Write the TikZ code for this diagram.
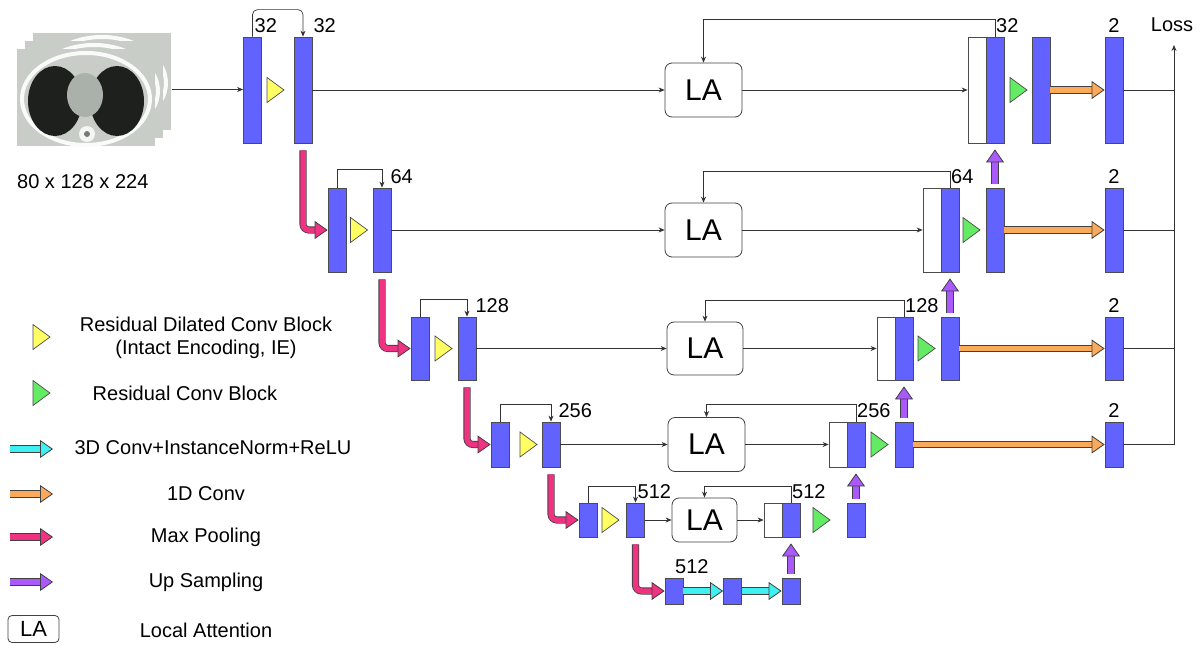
\documentclass[tikz,border=0pt]{standalone}
\usepackage{fontspec}
\setmainfont{Liberation Sans}
\usetikzlibrary{arrows.meta}

\definecolor{blockblue}{RGB}{98,98,255}
\definecolor{dilyellow}{RGB}{255,255,100}
\definecolor{resgreen}{RGB}{100,235,100}
\definecolor{convcyan}{RGB}{64,240,240}
\definecolor{convorange}{RGB}{250,170,90}
\definecolor{poolpink}{RGB}{240,50,130}
\definecolor{upviolet}{RGB}{170,90,250}
\definecolor{ctlight}{RGB}{200,205,200}
\definecolor{ctdark}{RGB}{30,32,30}
\definecolor{ctmid}{RGB}{170,176,170}

%Block triangle (x, y, colour)
\newcommand{\blocktri}[3]{\draw[draw=black!70,fill=#3,line width=0.7pt] (#1,#2) ++(-8.5,-12.5) -- ++(17,12.5) -- ++(-17,12.5) -- cycle;}

%One CT slice, top left corner at (x, y)
\newcommand{\ctslice}[2]{%
\begin{scope}[shift={(#1,#2)}]
\clip (0,0) rectangle (138,97);
\fill[ctlight] (0,0) rectangle (138,97);
\draw[white!90!ctlight,line width=4pt] (69,50) ellipse [x radius=64pt, y radius=46pt];
\fill[ctdark] (38,52) ellipse [x radius=27pt, y radius=35pt];
\fill[ctdark] (100,52) ellipse [x radius=27pt, y radius=35pt];
\fill[ctmid] (68,46) ellipse [x radius=18pt, y radius=22pt];
\fill[white!80!ctlight] (70,85) circle [radius=8pt];
\fill[ctdark!60] (70,85) circle [radius=3pt];
\end{scope}}

\begin{document}
\begin{tikzpicture}
[x=1pt,y=-1pt,>={Stealth[length=6pt,width=5pt]},
font=\fontsize{20}{23}\selectfont,
blk/.style={draw=black!70,fill=blockblue,minimum width=18pt,inner sep=0pt,line width=0.8pt},
cat/.style={draw=black!70,fill=white,minimum width=18pt,inner sep=0pt,line width=0.8pt},
att/.style={draw=black!75,fill=white,rounded corners=7pt,minimum width=77pt,minimum height=54pt,inner sep=0pt,line width=0.8pt,font=\fontsize{30}{32}\selectfont},
wire/.style={line width=0.7pt,draw=black!80},
num/.style={inner sep=1pt,yshift=3pt},
fat/.style={line width=5.5pt,draw=#1,-{Triangle[length=13pt,width=18pt,line width=0.8pt,color=black!75,fill=#1]},preaction={draw=black!75,-,line width=7.1pt,shorten >=10pt}},
upfat/.style={line width=5.5pt,draw=upviolet,shorten <=4pt,shorten >=6pt,-{Triangle[length=13pt,width=18pt,line width=0.8pt,color=black!75,fill=upviolet]},preaction={draw=black!75,-,line width=7.1pt,shorten >=16pt}},
]
\useasboundingbox (0,0) rectangle (1200,645);

%Input CT volume
\ctslice{33}{33}
\ctslice{25}{41}
\ctslice{17}{49}
\node[minimum width=155pt,minimum height=113pt,inner sep=0pt] (ct) at (94.5,89.5) {};
\node[anchor=west,inner sep=0pt] (ctsize) at (17,182) {80 x 128 x 224};

%Encoder level 0
\node[blk,minimum height=106pt,label={[num,anchor=south west,xshift=1pt]north:32}] (e01) at (252.5,90) {};
\node[blk,minimum height=106pt,label={[num]north east:32}] (e02) at (303,90) {};
\blocktri{275.5}{90}{dilyellow}

%Encoder level 1
\node[blk,minimum height=84pt] (e11) at (337,230) {};
\node[blk,minimum height=84pt,label={[num,xshift=-2pt]north east:64}] (e12) at (382,230) {};
\blocktri{359}{230}{dilyellow}

%Encoder level 2
\node[blk,minimum height=63pt] (e21) at (420,348.5) {};
\node[blk,minimum height=63pt,label={[num,xshift=-2pt]north east:128}] (e22) at (467,348.5) {};
\blocktri{443.5}{348.5}{dilyellow}

%Encoder level 3
\node[blk,minimum height=45pt] (e31) at (500,444.5) {};
\node[blk,minimum height=45pt,label={[num,xshift=-3pt]north east:256}] (e32) at (551,444.5) {};
\blocktri{528.5}{444.5}{dilyellow}

%Encoder level 4
\node[blk,minimum height=34pt] (e41) at (588,520) {};
\node[blk,minimum height=34pt,label={[num,anchor=south west,xshift=1pt]north:512}] (e42) at (635.5,520) {};
\blocktri{610.5}{520}{dilyellow}

%Bottleneck
\node[blk,minimum height=26pt,label={[num,anchor=south west]north:512}] (b1) at (674,591) {};
\node[blk,minimum height=26pt] (b2) at (732.5,591) {};
\node[blk,minimum height=26pt] (b3) at (791,591) {};

%Local attention
\node[att] (la0) at (703.5,90) {LA};
\node[att] (la1) at (703.5,230) {LA};
\node[att,minimum width=76pt,minimum height=53pt] (la2) at (705,348.5) {LA};
\node[att] (la3) at (706.5,444.5) {LA};
\node[att,minimum width=65pt,minimum height=44pt] (la4) at (704.5,520) {LA};

%Decoder level 0
\node[cat,minimum height=106pt] (w0) at (977,90) {};
\node[blk,minimum height=106pt,label={[num,anchor=south west]north:32}] (d0) at (995,90) {};
\node[blk,minimum height=106pt] (r0) at (1041,90) {};
\node[blk,minimum height=106pt,label={[num]north:2}] (o0) at (1114,90) {};
\blocktri{1018.5}{90}{resgreen}

%Decoder level 1
\node[cat,minimum height=84pt] (w1) at (932,230) {};
\node[blk,minimum height=84pt,label={[num,anchor=south west]north:64}] (d1) at (950,230) {};
\node[blk,minimum height=84pt] (r1) at (995,230) {};
\node[blk,minimum height=84pt,label={[num]north:2}] (o1) at (1114,230) {};
\blocktri{971.5}{230}{resgreen}

%Decoder level 2
\node[cat,minimum height=63pt] (w2) at (886,348.5) {};
\node[blk,minimum height=63pt,label={[num,anchor=south west]north:128}] (d2) at (904,348.5) {};
\node[blk,minimum height=63pt] (r2) at (950,348.5) {};
\node[blk,minimum height=63pt,label={[num]north:2}] (o2) at (1114,348.5) {};
\blocktri{926.5}{348.5}{resgreen}

%Decoder level 3
\node[cat,minimum height=45pt] (w3) at (838,444.5) {};
\node[blk,minimum height=45pt,label={[num,anchor=south west]north:256}] (d3) at (856,444.5) {};
\node[blk,minimum height=45pt] (r3) at (904,444.5) {};
\node[blk,minimum height=45pt,label={[num]north:2}] (o3) at (1114,444.5) {};
\blocktri{879.5}{444.5}{resgreen}

%Decoder level 4
\node[cat,minimum height=34pt] (w4) at (773,520) {};
\node[blk,minimum height=34pt,label={[num,anchor=south west]north:512}] (d4) at (791,520) {};
\node[blk,minimum height=34pt] (r4) at (856,520) {};
\blocktri{821.5}{520}{resgreen}

%Input and encoder skips
\draw[wire,->] (ct.east) -- (ct.east -| e01.west);
\draw[wire,->,rounded corners=5pt] (e01.north) -- ++(0,-27) -| (e02.north);
\draw[wire,->] (e11.north) -- ++(0,-18) -| (e12.north);
\draw[wire,->] (e21.north) -- ++(0,-17) -| (e22.north);
\draw[wire,->] (e31.north) -- ++(0,-17) -| (e32.north);
\draw[wire,->] (e41.north) -- ++(0,-16) -| (e42.north);

%Through local attention
\draw[wire,->] (e02.east) -- (la0.west);
\draw[wire,->] (la0.east) -- (w0.west);
\draw[wire,->] (e12.east) -- (la1.west);
\draw[wire,->] (la1.east) -- (w1.west);
\draw[wire,->] (e22.east) -- (la2.west);
\draw[wire,->] (la2.east) -- (w2.west);
\draw[wire,->] (e32.east) -- (la3.west);
\draw[wire,->] (la3.east) -- (w3.west);
\draw[wire,->] (e42.east) -- (la4.west);
\draw[wire,->] (la4.east) -- (w4.west);

%Decoder back to attention
\draw[wire,->] (d0.north) -- ++(0,-17) -| (la0.north);
\draw[wire,->] (d1.north) -- ++(0,-16) -| (la1.north);
\draw[wire,->] (d2.north) -- ++(0,-16) -| (la2.north);
\draw[wire,->] (d3.north) -- ++(0,-17) -| (la3.north);
\draw[wire,->] (d4.north) -- ++(0,-16) -| (la4.north);

%Max pooling
\draw[fat=poolpink,shorten <=7pt,rounded corners=6pt] (e02.south) |- (e11.west);
\draw[fat=poolpink,shorten <=7pt,rounded corners=6pt] (e12.south) |- (e21.west);
\draw[fat=poolpink,shorten <=7pt,rounded corners=6pt] (e22.south) |- (e31.west);
\draw[fat=poolpink,shorten <=7pt,rounded corners=6pt] (e32.south) |- (e41.west);
\draw[fat=poolpink,shorten <=7pt,rounded corners=6pt] (e42.south) |- (b1.west);

%Bottleneck convolutions
\draw[fat=convcyan] (b1.east) -- (b2.west);
\draw[fat=convcyan] (b2.east) -- (b3.west);

%Up sampling
\draw[upfat] (b3.north) -- (d4.south);
\draw[upfat] (r4.north) -- (d3.south);
\draw[upfat] (r3.north) -- (d2.south);
\draw[upfat] (r2.north) -- (d1.south);
\draw[upfat] (r1.north) -- (d0.south);

%1D conv outputs
\draw[fat=convorange] (r0.east) -- (o0.west);
\draw[fat=convorange] (r1.east) -- (o1.west);
\draw[fat=convorange] (r2.east) -- (o2.west);
\draw[fat=convorange] (r3.east) -- (o3.west);

%Loss
\coordinate (busbot) at (1174,444.5);
\coordinate (bustop) at (1174,45);
\node (loss) at (1172,25) {Loss};
\draw[wire] (o0.east) -- (o0.east -| busbot);
\draw[wire] (o1.east) -- (o1.east -| busbot);
\draw[wire] (o2.east) -- (o2.east -| busbot);
\draw[wire] (o3.east) -- (busbot);
\draw[wire,->] (busbot) -- (bustop);

%Legend
\blocktri{41.5}{337}{dilyellow}
\node[align=center] (lgdil) at (206,338) {Residual Dilated Conv Block\\(Intact Encoding, IE)};
\blocktri{41.5}{393}{resgreen}
\node (lgres) at (185,393) {Residual Conv Block};
\coordinate (lgcyana) at (10,449);
\coordinate (lgcyanb) at (53,449);
\draw[fat=convcyan] (lgcyana) -- (lgcyanb);
\node (lgconv) at (213,448) {3D Conv+InstanceNorm+ReLU};
\coordinate (lgorna) at (10,494);
\coordinate (lgornb) at (53,494);
\draw[fat=convorange] (lgorna) -- (lgornb);
\node (lgone) at (206,494) {1D Conv};
\coordinate (lgpinka) at (10,537);
\coordinate (lgpinkb) at (53,537);
\draw[fat=poolpink] (lgpinka) -- (lgpinkb);
\node (lgpool) at (206,537) {Max Pooling};
\coordinate (lgupa) at (10,582);
\coordinate (lgupb) at (53,582);
\draw[fat=upviolet] (lgupa) -- (lgupb);
\node (lgup) at (206,582) {Up Sampling};
\node[att,minimum width=51pt,minimum height=27pt,rounded corners=4pt,font=\fontsize{22}{24}\selectfont] (lgla) at (33.5,629) {LA};
\node (lgatt) at (206,630) {Local Attention};

\end{tikzpicture}
\end{document}
